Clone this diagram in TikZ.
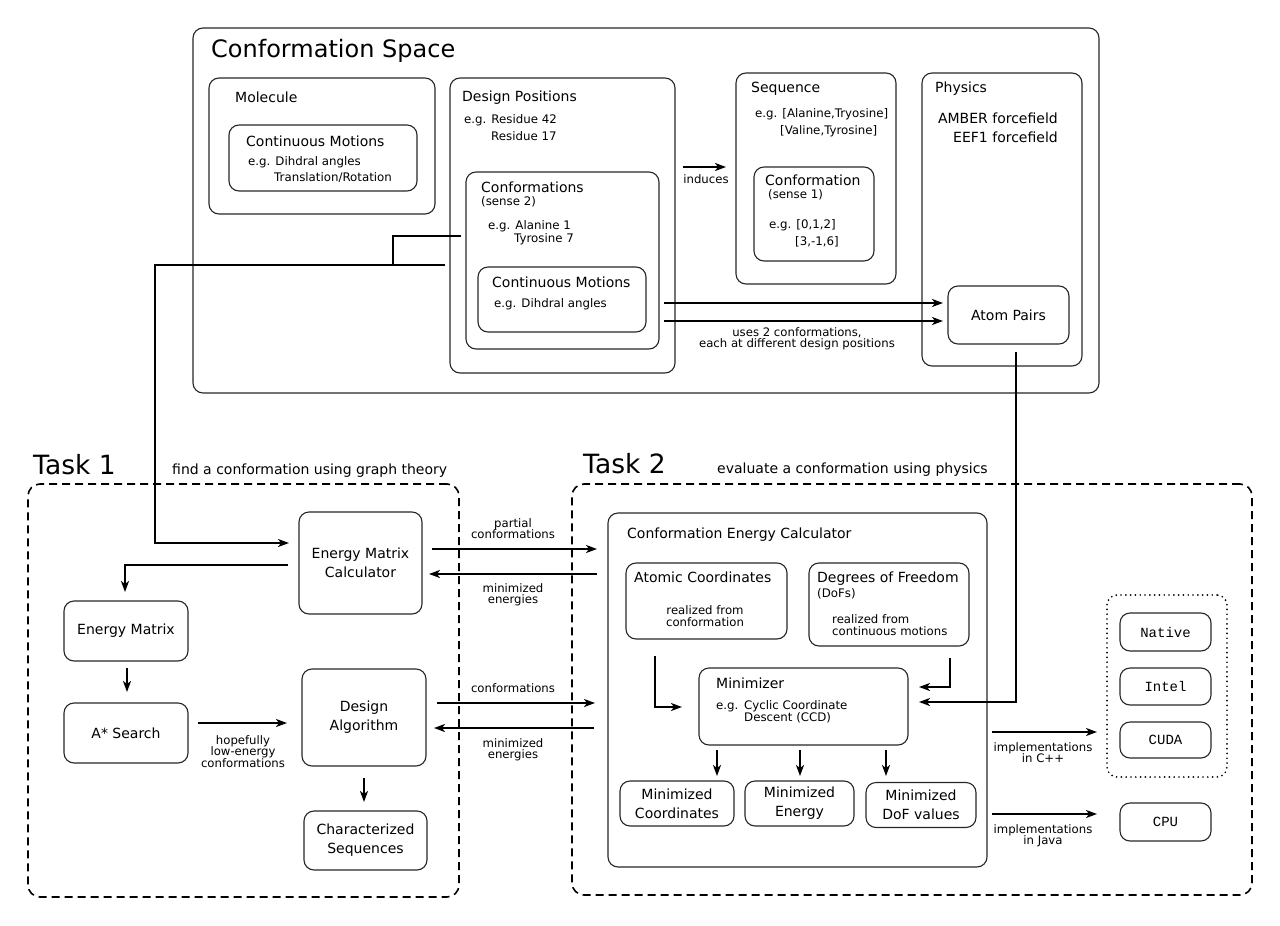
\documentclass[tikz,border=0pt]{standalone}
\usepackage{fontspec}
\setmainfont{DejaVu Sans}
\setmonofont{Liberation Mono}
\usetikzlibrary{arrows.meta}
\tikzset{
  bx/.style={draw=black!85, line width=1.1pt, rounded corners=10pt, inner sep=0pt, align=center, font=\fontsize{14}{19}\selectfont},
  lbl/.style={anchor=base west, inner sep=0pt},
  lblc/.style={anchor=base, inner sep=0pt},
  lble/.style={anchor=base east, inner sep=0pt},
  fbig/.style={font=\fontsize{14}{19}\selectfont},
  fsmall/.style={font=\fontsize{11.8}{12}\selectfont},
  farr/.style={font=\fontsize{11.7}{11.7}\selectfont},
  ftitle/.style={font=\fontsize{24}{28}\selectfont},
  ftask/.style={font=\fontsize{26.5}{30}\selectfont},
  fmono/.style={font=\fontsize{14}{16}\selectfont\ttfamily},
  ln/.style={line width=1.8pt},
  arr/.style={line width=1.8pt, -{Stealth[length=11pt,width=8pt,inset=3pt]}},
  dashbox/.style={draw, line width=1.6pt, dash pattern=on 8pt off 5pt, rounded corners=12pt, inner sep=0pt},
  dotbox/.style={draw, line width=1.9pt, dash pattern=on 0pt off 4.8pt, line cap=round, rounded corners=10pt, inner sep=0pt},
}
\begin{document}
\begin{tikzpicture}[x=1pt,y=-1pt]
\useasboundingbox (0,0) rectangle (1280,926);

% ---------------- Conformation Space ----------------
\node[bx, minimum width=906pt, minimum height=365pt] (cs) at (646,210.5) {};
\node[lbl, ftitle] (cstitle) at (211,57) {Conformation Space};

\node[bx, minimum width=226pt, minimum height=136pt] (mol) at (322,146) {};
\node[lbl, fbig] (moltxt) at (235,102) {Molecule};
\node[bx, minimum width=188pt, minimum height=66pt] (cm1) at (323,158) {};
\node[lbl, fbig] (cm1t) at (246,146) {Continuous Motions};
\node[lbl, fsmall] (cm1a) at (248,165) {e.g. Dihdral angles};
\node[lbl, fsmall] (cm1b) at (274,181) {Translation/Rotation};

\node[bx, minimum width=225pt, minimum height=295pt] (dp) at (562.5,225.5) {};
\node[lbl, fbig] (dpt) at (462,101) {Design Positions};
\node[lbl, fsmall] (dpa) at (464,123) {e.g. Residue 42};
\node[lbl, fsmall] (dpb) at (491,140) {Residue 17};

\node[bx, minimum width=193pt, minimum height=177pt] (conf2) at (562.5,260.5) {};
\node[lbl, fbig] (conf2t) at (481,192) {Conformations};
\node[lbl, fsmall] (conf2s) at (481,205) {(sense 2)};
\node[lbl, fsmall] (conf2a) at (488,229) {e.g. Alanine 1};
\node[lbl, fsmall] (conf2b) at (514,242) {Tyrosine 7};

\node[bx, minimum width=168pt, minimum height=65pt] (cm2) at (562,299.5) {};
\node[lbl, fbig] (cm2t) at (492,287) {Continuous Motions};
\node[lbl, fsmall] (cm2a) at (494,307) {e.g. Dihdral angles};

\node[bx, minimum width=160pt, minimum height=211pt] (seq) at (816,178.5) {};
\node[lbl, fbig] (seqt) at (751,92) {Sequence};
\node[lbl, fsmall] (seqa) at (755,117) {e.g. [Alanine,Tryosine]};
\node[lbl, fsmall] (seqb) at (780,134) {[Valine,Tyrosine]};

\node[bx, minimum width=120pt, minimum height=94pt] (conf1) at (814,214) {};
\node[lbl, fbig] (conf1t) at (765,185) {Conformation};
\node[lbl, fsmall] (conf1s) at (768,198) {(sense 1)};
\node[lbl, fsmall] (conf1a) at (769,228) {e.g. [0,1,2]};
\node[lbl, fsmall] (conf1b) at (795,245) {[3,-1,6]};

\node[bx, minimum width=160pt, minimum height=293pt] (phys) at (1002,219.5) {};
\node[lbl, fbig] (physt) at (935,92) {Physics};
\node[lble, fbig] (physa) at (1058,123) {AMBER forcefield};
\node[lble, fbig] (physb) at (1058,142) {EEF1 forcefield};

\node[bx, minimum width=121pt, minimum height=58pt] (ap) at (1008.5,315) {Atom Pairs};

% induces
\coordinate (indA) at (683,167);
\coordinate (indB) at (726,167);
\draw[arr] (indA) -- (indB);
\node[lblc, farr] (indt) at (706,183) {induces};

% conformations -> atom pairs
\coordinate (cpA1) at (664,303);
\coordinate (cpB1) at (943,303);
\coordinate (cpA2) at (664,321);
\coordinate (cpB2) at (943,321);
\draw[arr] (cpA1) -- (cpB1);
\draw[arr] (cpA2) -- (cpB2);
\node[lblc, farr] (usea) at (797,336) {uses 2 conformations,};
\node[lblc, farr] (useb) at (797,347) {each at different design positions};

% ---------------- Task 1 ----------------
\node[lbl, ftask] (task1) at (33,474) {Task 1};
\node[lbl, fbig] (task1s) at (172,474) {find a conformation using graph theory};
\node[dashbox, minimum width=431pt, minimum height=413pt] (t1box) at (243.5,690.5) {};

\node[bx, minimum width=123pt, minimum height=102pt] (emc) at (360.5,563) {Energy Matrix\\Calculator};
\node[bx, minimum width=124pt, minimum height=60pt] (em) at (126,631) {Energy Matrix};
\node[bx, minimum width=124pt, minimum height=60pt] (as) at (126,733) {A* Search};
\node[bx, minimum width=124pt, minimum height=97pt] (da) at (364,717.5) {Design\\Algorithm};
\node[bx, minimum width=123pt, minimum height=59pt] (csq) at (365.5,840.5) {Characterized\\Sequences};

% link from conformations (sense 2) to energy matrix calculator
\coordinate (lkA) at (461,236);
\coordinate (lkB) at (393,265);
\coordinate (lkC) at (445,265);
\coordinate (lkD) at (155,265);
\coordinate (lkE) at (289,543);
\draw[ln] (lkA) -| (lkB);
\draw[arr] (lkC) -- (lkD) |- (lkE);

% emc -> em
\coordinate (eeA) at (288,565);
\coordinate (eeB) at (125,592);
\draw[arr] (eeA) -| (eeB);
% em -> as
\coordinate (eaA) at (127,668);
\coordinate (eaB) at (127,692);
\draw[arr] (eaA) -- (eaB);
% as -> da
\coordinate (adA) at (198,723);
\coordinate (adB) at (287,723);
\draw[arr] (adA) -- (adB);
\node[lblc, farr] (hopa) at (243,744) {hopefully};
\node[lblc, farr] (hopb) at (243,755) {low-energy};
\node[lblc, farr] (hopc) at (243,767) {conformations};
% da -> csq
\coordinate (dcA) at (364,778);
\coordinate (dcB) at (364,802);
\draw[arr] (dcA) -- (dcB);

% ---------------- between tasks ----------------
\coordinate (pcA) at (432,549);
\coordinate (pcB) at (597,549);
\draw[arr] (pcA) -- (pcB);
\node[lblc, farr] (pca) at (513,527) {partial};
\node[lblc, farr] (pcb) at (513,538) {conformations};
\coordinate (meA) at (597,574);
\coordinate (meB) at (429,574);
\draw[arr] (meA) -- (meB);
\node[lblc, farr] (mea) at (513,592) {minimized};
\node[lblc, farr] (meb) at (513,603) {energies};

\coordinate (cfA) at (437,703);
\coordinate (cfB) at (595,703);
\draw[arr] (cfA) -- (cfB);
\node[lblc, farr] (cfa) at (513,692) {conformations};
\coordinate (me2A) at (594,728);
\coordinate (me2B) at (434,728);
\draw[arr] (me2A) -- (me2B);
\node[lblc, farr] (me2a) at (513,747) {minimized};
\node[lblc, farr] (me2b) at (513,758) {energies};

% ---------------- Task 2 ----------------
\node[lbl, ftask] (task2) at (583,473) {Task 2};
\node[lbl, fbig] (task2s) at (717,473) {evaluate a conformation using physics};
\node[dashbox, minimum width=680pt, minimum height=411pt] (t2box) at (912,689.5) {};

\node[bx, minimum width=379pt, minimum height=354pt] (cec) at (797.5,690) {};
\node[lbl, fbig] (cect) at (627,538) {Conformation Energy Calculator};

\node[bx, minimum width=161pt, minimum height=76pt] (ac) at (706.5,601) {};
\node[lbl, fbig] (act) at (634,582) {Atomic Coordinates};
\node[lblc, farr] (aca) at (705,614) {realized from};
\node[lblc, farr] (acb) at (705,626) {conformation};

\node[bx, minimum width=160pt, minimum height=83pt] (dof) at (889,604.5) {};
\node[lbl, fbig] (doft) at (817,582) {Degrees of Freedom};
\node[lbl, fsmall] (dofs) at (817,597) {(DoFs)};
\node[lbl, farr] (dofa) at (832,623) {realized from};
\node[lbl, farr] (dofb) at (832,635) {continuous motions};

\node[bx, minimum width=209pt, minimum height=77pt] (mini) at (803.5,706.5) {};
\node[lbl, fbig] (minit) at (716,688) {Minimizer};
\node[lbl, fsmall] (minia) at (716,709) {e.g.};
\node[lbl, fsmall] (minib) at (744,709) {Cyclic Coordinate};
\node[lbl, fsmall] (minic) at (744,721) {Descent (CCD)};

\node[bx, minimum width=114pt, minimum height=45pt] (mc) at (677,803.5) {Minimized\\Coordinates};
\node[bx, minimum width=109pt, minimum height=45pt] (me) at (799.5,803.5) {Minimized\\Energy};
\node[bx, minimum width=110pt, minimum height=45pt] (md) at (921,805) {Minimized\\DoF values};

% ac -> minimizer
\coordinate (amA) at (655,656);
\coordinate (amB) at (682,707);
\draw[arr] (amA) |- (amB);
% dof -> minimizer
\coordinate (dmA) at (950,658);
\coordinate (dmB) at (919,687);
\draw[arr] (dmA) |- (dmB);
% atom pairs -> minimizer
\coordinate (pmA) at (1016,352);
\coordinate (pmB) at (919,702);
\draw[arr] (pmA) |- (pmB);
% minimizer -> outputs
\coordinate (o1A) at (717,750); \coordinate (o1B) at (717,776);
\coordinate (o2A) at (800,750); \coordinate (o2B) at (800,776);
\coordinate (o3A) at (886,750); \coordinate (o3B) at (886,776);
\draw[arr] (o1A) -- (o1B);
\draw[arr] (o2A) -- (o2B);
\draw[arr] (o3A) -- (o3B);

% implementations
\node[dotbox, minimum width=120pt, minimum height=182pt] (dots) at (1167,686) {};
\node[bx, fmono, minimum width=91pt, minimum height=38pt] (nat) at (1165.5,632) {Native};
\node[bx, fmono, minimum width=91pt, minimum height=37pt] (intel) at (1165.5,686.5) {Intel};
\node[bx, fmono, minimum width=91pt, minimum height=36pt] (cuda) at (1165.5,740) {CUDA};
\node[bx, fmono, minimum width=91pt, minimum height=38pt] (cpu) at (1165.5,822) {CPU};

\coordinate (icA) at (992,732);
\coordinate (icB) at (1097,732);
\draw[arr] (icA) -- (icB);
\node[lblc, farr] (ica) at (1043,751) {implementations};
\node[lblc, farr] (icb) at (1043,762) {in C++};
\coordinate (ijA) at (992,814);
\coordinate (ijB) at (1097,814);
\draw[arr] (ijA) -- (ijB);
\node[lblc, farr] (ija) at (1043,833) {implementations};
\node[lblc, farr] (ijb) at (1043,844) {in Java};
\end{tikzpicture}
\end{document}
